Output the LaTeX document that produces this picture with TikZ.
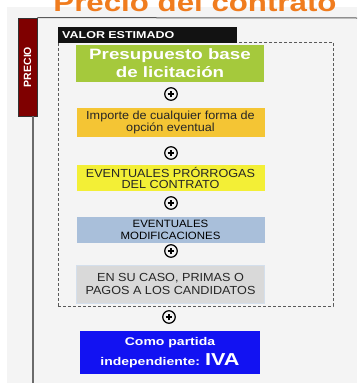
\documentclass[tikz,border=0pt]{standalone}
\usepackage{fontspec}
\setmainfont{Liberation Sans}
\newfontfamily\rgfont{Liberation Sans}[FakeStretch=1.08]
\newfontfamily\bdfont{Liberation Sans}[FakeStretch=1.25]
\definecolor{bg}{HTML}{F4F4F4}
\definecolor{titleor}{HTML}{F07C1E}
\definecolor{precred}{HTML}{7F0000}
\definecolor{pbgreen}{HTML}{A5C93C}
\definecolor{optgold}{HTML}{F4C534}
\definecolor{proyel}{HTML}{F3EF36}
\definecolor{modblue}{HTML}{A9BFDA}
\definecolor{primgray}{HTML}{D9D9D9}
\definecolor{ivablue}{HTML}{1212F2}
\definecolor{txt}{HTML}{262626}
\definecolor{frame}{HTML}{5A5A5A}
\begin{document}
\begin{tikzpicture}[x=1pt,y=-1pt,
  box/.style={rectangle, inner sep=0pt, minimum width=188pt, align=center},
  plus/.style={circle, draw=black, line width=1.2pt, minimum size=12.5pt, inner sep=0pt,
    path picture={\draw[line width=1.1pt]
      ([xshift=-3.4pt]path picture bounding box.center) -- ([xshift=3.4pt]path picture bounding box.center)
      ([yshift=-3.4pt]path picture bounding box.center) -- ([yshift=3.4pt]path picture bounding box.center);}},
  frameline/.style={draw=frame, line width=1pt},
  regtext/.style={text=txt, font=\rgfont\fontsize{11.7}{11.7}\selectfont}
]
\useasboundingbox (0,0) rectangle (357,383);
\clip (0,0) rectangle (357,383);
\fill[bg] (7,7) rectangle (357,383);

% title (cut off at the top)
\node[anchor=base, inner sep=0pt, text=titleor, font=\bdfont\bfseries\fontsize{25}{25}\selectfont]
  (title) at (195,11.5) {Precio del contrato};

% PRECIO bar and frame lines
\node[rectangle, fill=precred, draw=black!80, line width=0.8pt, minimum width=19pt, minimum height=98pt, inner sep=0pt]
  (precio) at (27.5,67) {};
\node[rotate=90, text=white, inner sep=0pt, font=\bfseries\fontsize{10.5}{10.5}\selectfont]
  (preciotxt) at (27.5,67) {PRECIO};
\coordinate (topend) at (357,18);
\coordinate (leftend) at (33,383);
\draw[frameline] (precio.north east) -- (topend);
\draw[draw=frame!90, line width=1.5pt] ([xshift=5.5pt]precio.south) -- (leftend);

% dashed VALOR ESTIMADO area
\node[rectangle, draw=frame, dashed, dash pattern=on 3pt off 2pt, line width=0.9pt,
      minimum width=275pt, minimum height=264pt, inner sep=0pt] (ve) at (195.5,174) {};
\node[anchor=west, rectangle, fill=black!93, text=white, minimum width=178pt, minimum height=16pt,
      text width=171pt, inner xsep=4pt, inner ysep=0pt, align=left,
      font=\bdfont\bfseries\fontsize{10}{10}\selectfont] (vlab) at (58,35) {VALOR ESTIMADO};

% boxes
\node[box, fill=pbgreen, minimum height=37pt, text=white,
      font=\bdfont\bfseries\fontsize{15}{18}\selectfont] (pb) at (170,63.5) {Presupuesto base\\de licitación};
\node[plus] (p1) at (171,94) {};
\node[box, fill=optgold, minimum height=29pt, regtext] (opt) at (170.5,122.5) {Importe de cualquier forma de\\opción eventual};
\node[plus] (p2) at (171,153) {};
\node[box, fill=proyel, minimum height=26pt, regtext] (pro) at (170.5,178) {EVENTUALES PRÓRROGAS\\DEL CONTRATO};
\node[plus] (p3) at (171,203) {};
\node[box, fill=modblue, minimum height=26pt, text=black,
      font=\rgfont\fontsize{10.6}{12}\selectfont] (mod) at (170.5,230) {EVENTUALES\\MODIFICACIONES};
\node[plus] (p4) at (171,251) {};
\node[box, fill=primgray, draw=modblue!50, line width=0.6pt, minimum height=38pt, text=txt,
      font=\rgfont\fontsize{11.7}{12.5}\selectfont] (prim) at (170.5,284) {EN SU CASO, PRIMAS O\\PAGOS A LOS CANDIDATOS};
\node[plus] (p5) at (169,317) {};
\node[box, fill=ivablue, minimum width=180pt, minimum height=43pt, text=white,
      font=\bdfont\bfseries\fontsize{11.2}{20}\selectfont] (iva) at (170,352.5)
      {Como partida\\independiente: {\fontsize{17.3}{20}\selectfont IVA}};
\end{tikzpicture}
\end{document}
